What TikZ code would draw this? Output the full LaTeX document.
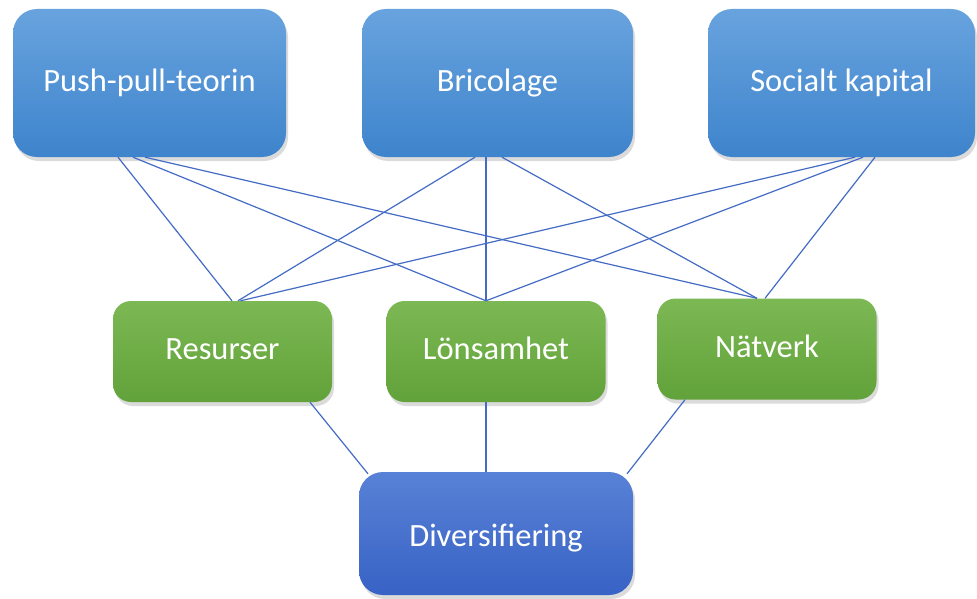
\documentclass[tikz,border=0pt]{standalone}
\usepackage{fontspec}
\setmainfont{Carlito}
\usetikzlibrary{shadows,calc}
\definecolor{topA}{RGB}{104,163,222}
\definecolor{topB}{RGB}{62,132,204}
\definecolor{grA}{RGB}{124,184,84}
\definecolor{grB}{RGB}{98,162,58}
\definecolor{dvA}{RGB}{88,130,214}
\definecolor{dvB}{RGB}{56,98,196}
\definecolor{lineC}{RGB}{68,108,196}
\tikzset{
  x=1pt,y=-1pt,
  boxbase/.style={rounded corners=24pt, draw=none, text=white, font=\fontsize{32.5}{36}\selectfont,
    drop shadow={opacity=0.28, shadow xshift=2pt, shadow yshift=-4pt}},
  topbox/.style={boxbase, top color=topA, bottom color=topB, minimum height=148pt, text height=20pt, text depth=2pt},
  greenbox/.style={boxbase, rounded corners=18pt, top color=grA, bottom color=grB, minimum width=219pt, minimum height=101pt, text height=18pt, text depth=2pt},
  divbox/.style={boxbase, top color=dvA, bottom color=dvB, minimum width=274pt, minimum height=123pt, text height=27pt, text depth=2pt},
  conn/.style={draw=lineC, line width=1.2pt}
}
\begin{document}
\begin{tikzpicture}
\useasboundingbox (0,0) rectangle (977,599);
\fill[white] (0,0) rectangle (977,599);
% top row
\node[topbox, minimum width=273pt] (pp) at (149.5,83) {Push-pull-teorin};
\node[topbox, minimum width=271pt] (br) at (497.5,83) {Bricolage};
\node[topbox, minimum width=267pt] (sk) at (841.5,83) {Socialt kapital};
% middle row
\node[greenbox] (re) at (222.5,351.5) {Resurser};
\node[greenbox] (lo) at (496,351.5) {Lönsamhet};
\node[greenbox] (na) at (767,349) {Nätverk};
% bottom
\node[divbox] (dv) at (496,533.5) {Diversifiering};
% connectors top -> middle
\draw[conn] ([xshift=-31.5pt]pp.south) -- ([xshift=9.5pt]re.north);
\draw[conn] ([xshift=-16.5pt]pp.south) -- ([xshift=-10pt]lo.north);
\draw[conn] ([xshift=-4.5pt]pp.south) -- ([xshift=-10pt]na.north);
\draw[conn] ([xshift=-22.5pt]br.south) -- ([xshift=15.5pt]re.north);
\draw[conn] ([xshift=-11.5pt]br.south) -- ([xshift=-10pt]lo.north);
\draw[conn] ([xshift=4.5pt]br.south) -- ([xshift=-10pt]na.north);
\draw[conn] ([xshift=13.5pt]sk.south) -- ([xshift=18pt]re.north);
\draw[conn] ([xshift=21.5pt]sk.south) -- ([xshift=-10pt]lo.north);
\draw[conn] ([xshift=33.5pt]sk.south) -- ([xshift=-2pt]na.north);
% connectors middle -> bottom
\draw[conn] ([xshift=87.5pt]re.south) -- ([xshift=-128pt,yshift=-2pt]dv.north);
\draw[conn] ([xshift=-10pt]lo.south) -- ([xshift=-10pt]dv.north);
\draw[conn] ([xshift=-82pt]na.south) -- ([xshift=131pt,yshift=-2pt]dv.north);
\end{tikzpicture}
\end{document}
